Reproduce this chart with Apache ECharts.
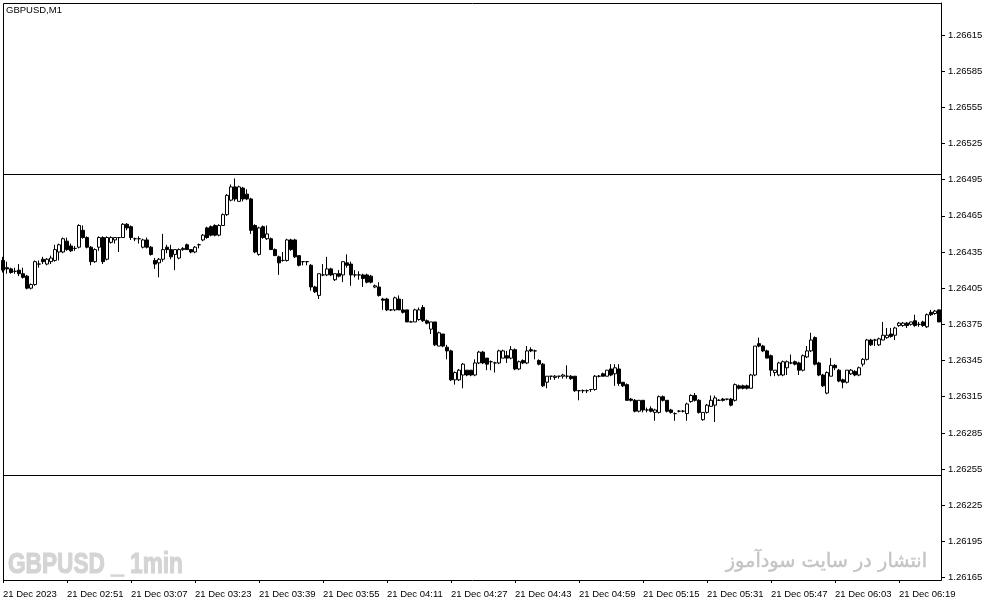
<!DOCTYPE html>
<html><head><meta charset="utf-8">
<script src="https://cdn.jsdelivr.net/npm/echarts@6/dist/echarts.min.js"></script>
<style>html,body{margin:0;padding:0;background:#fff}#c{width:987px;height:605px}</style>
</head><body><div id="c"></div>
<script>
const chartTitle = "GBPUSD,M1";
const watermarkLeft = "GBPUSD _ 1min";
const watermarkRight = "انتشار در سایت سودآموز";
const dateLabel = "21 Dec 2023";
const dayPrefix = "21 Dec ";
const startTime = "02:35";
const labelEvery = 16;

const opens = [
1.26428,1.26422,1.26421,1.26419,1.26420,1.26417,1.26415,1.26405,1.26408,1.26425,
1.26429,1.26425,1.26427,1.26428,1.26435,1.26435,1.26444,1.26440,1.26438,1.26439,
1.26453,1.26447,1.26439,1.26427,1.26439,1.26447,1.26429,1.26443,1.26445,1.26447,
1.26447,1.26458,1.26456,1.26446,1.26446,1.26439,1.26445,1.26439,1.26428,1.26426,
1.26429,1.26439,1.26437,1.26433,1.26430,1.26437,1.26441,1.26437,1.26435,1.26441,
1.26445,1.26455,1.26456,1.26457,1.26449,1.26457,1.26466,1.26478,1.26489,1.26477,
1.26488,1.26483,1.26479,1.26457,1.26433,1.26456,1.26446,1.26446,1.26437,1.26431,
1.26428,1.26428,1.26445,1.26445,1.26432,1.26427,1.26427,1.26424,1.26406,1.26399,
1.26416,1.26416,1.26421,1.26412,1.26417,1.26416,1.26426,1.26425,1.26416,1.26416,
1.26416,1.26416,1.26415,1.26406,1.26406,1.26396,1.26396,1.26387,1.26387,1.26396,
1.26387,1.26387,1.26377,1.26377,1.26379,1.26389,1.26378,1.26371,1.26377,1.26357,
1.26367,1.26356,1.26353,1.26329,1.26329,1.26333,1.26337,1.26337,1.26333,1.26343,
1.26352,1.26347,1.26344,1.26343,1.26343,1.26347,1.26349,1.26347,1.26354,1.26338,
1.26345,1.26343,1.26354,1.26353,1.26345,1.26342,1.26327,1.26332,1.26331,1.26332,
1.26332,1.26332,1.26332,1.26332,1.26320,1.26320,1.26320,1.26321,1.26321,1.26332,
1.26334,1.26332,1.26338,1.26334,1.26338,1.26327,1.26325,1.26313,1.26312,1.26303,
1.26312,1.26304,1.26305,1.26302,1.26302,1.26315,1.26312,1.26304,1.26301,1.26303,
1.26303,1.26301,1.26311,1.26316,1.26312,1.26296,1.26302,1.26307,1.26308,1.26312,
1.26313,1.26313,1.26313,1.26312,1.26324,1.26324,1.26324,1.26322,1.26333,1.26359,
1.26357,1.26353,1.26349,1.26335,1.26333,1.26333,1.26339,1.26343,1.26344,1.26343,
1.26337,1.26348,1.26353,1.26364,1.26343,1.26333,1.26318,1.26332,1.26341,1.26337,
1.26329,1.26327,1.26334,1.26336,1.26333,1.26342,1.26346,1.26362,1.26362,1.26358,
1.26362,1.26364,1.26367,1.26366,1.26374,1.26374,1.26376,1.26375,1.26378,1.26375,
1.26377,1.26373,1.26385,1.26384,1.26387];

const closes = [
1.26420,1.26421,1.26418,1.26419,1.26417,1.26414,1.26405,1.26408,1.26427,1.26425,
1.26427,1.26429,1.26430,1.26437,1.26441,1.26446,1.26437,1.26436,1.26438,1.26457,
1.26447,1.26439,1.26427,1.26437,1.26447,1.26427,1.26447,1.26447,1.26447,1.26447,
1.26458,1.26455,1.26447,1.26446,1.26446,1.26445,1.26439,1.26433,1.26425,1.26429,
1.26437,1.26437,1.26431,1.26437,1.26437,1.26438,1.26437,1.26435,1.26439,1.26441,
1.26449,1.26447,1.26449,1.26449,1.26457,1.26466,1.26482,1.26489,1.26479,1.26489,
1.26479,1.26479,1.26453,1.26435,1.26455,1.26447,1.26450,1.26437,1.26432,1.26426,
1.26428,1.26445,1.26437,1.26431,1.26424,1.26427,1.26427,1.26406,1.26402,1.26417,
1.26416,1.26421,1.26416,1.26417,1.26415,1.26427,1.26424,1.26416,1.26416,1.26416,
1.26413,1.26410,1.26410,1.26407,1.26399,1.26395,1.26387,1.26387,1.26397,1.26387,
1.26385,1.26377,1.26377,1.26387,1.26387,1.26378,1.26376,1.26377,1.26358,1.26368,
1.26357,1.26353,1.26329,1.26335,1.26337,1.26342,1.26333,1.26333,1.26343,1.26352,
1.26343,1.26342,1.26344,1.26343,1.26353,1.26353,1.26347,1.26354,1.26338,1.26344,
1.26343,1.26353,1.26353,1.26353,1.26342,1.26324,1.26332,1.26332,1.26332,1.26332,
1.26333,1.26332,1.26330,1.26320,1.26320,1.26320,1.26320,1.26321,1.26332,1.26332,
1.26332,1.26337,1.26333,1.26339,1.26326,1.26324,1.26312,1.26312,1.26303,1.26312,
1.26304,1.26304,1.26303,1.26304,1.26315,1.26312,1.26303,1.26302,1.26301,1.26303,
1.26303,1.26309,1.26316,1.26312,1.26302,1.26302,1.26308,1.26312,1.26314,1.26312,
1.26312,1.26313,1.26308,1.26325,1.26322,1.26322,1.26322,1.26333,1.26357,1.26357,
1.26353,1.26347,1.26337,1.26337,1.26343,1.26344,1.26344,1.26343,1.26342,1.26337,
1.26349,1.26353,1.26362,1.26342,1.26333,1.26324,1.26335,1.26341,1.26339,1.26328,
1.26327,1.26337,1.26337,1.26333,1.26339,1.26346,1.26362,1.26358,1.26362,1.26363,
1.26366,1.26366,1.26365,1.26372,1.26376,1.26376,1.26374,1.26377,1.26374,1.26375,
1.26374,1.26383,1.26383,1.26386,1.26377];

const lows = [
1.26418,1.26417,1.26417,1.26417,1.26415,1.26413,1.26404,1.26404,1.26407,1.26422,
1.26425,1.26424,1.26425,1.26427,1.26428,1.26434,1.26436,1.26435,1.26436,1.26438,
1.26446,1.26438,1.26424,1.26426,1.26436,1.26425,1.26428,1.26442,1.26442,1.26435,
1.26447,1.26453,1.26445,1.26444,1.26442,1.26438,1.26438,1.26432,1.26421,1.26414,
1.26427,1.26434,1.26429,1.26420,1.26429,1.26436,1.26437,1.26434,1.26434,1.26438,
1.26444,1.26446,1.26448,1.26448,1.26448,1.26457,1.26465,1.26477,1.26477,1.26477,
1.26477,1.26478,1.26450,1.26434,1.26432,1.26446,1.26445,1.26437,1.26432,1.26416,
1.26427,1.26427,1.26436,1.26430,1.26423,1.26424,1.26424,1.26403,1.26401,1.26396,
1.26415,1.26415,1.26415,1.26411,1.26414,1.26410,1.26422,1.26407,1.26414,1.26412,
1.26406,1.26409,1.26409,1.26405,1.26398,1.26387,1.26386,1.26386,1.26386,1.26387,
1.26384,1.26377,1.26377,1.26377,1.26378,1.26377,1.26375,1.26367,1.26357,1.26357,
1.26356,1.26346,1.26328,1.26325,1.26328,1.26322,1.26332,1.26332,1.26332,1.26342,
1.26342,1.26337,1.26337,1.26335,1.26342,1.26347,1.26343,1.26346,1.26337,1.26337,
1.26342,1.26342,1.26352,1.26346,1.26341,1.26323,1.26322,1.26329,1.26329,1.26330,
1.26330,1.26330,1.26329,1.26319,1.26312,1.26318,1.26318,1.26319,1.26320,1.26331,
1.26332,1.26332,1.26332,1.26324,1.26324,1.26323,1.26312,1.26311,1.26302,1.26302,
1.26302,1.26302,1.26302,1.26295,1.26301,1.26311,1.26302,1.26301,1.26295,1.26302,
1.26302,1.26295,1.26310,1.26311,1.26301,1.26295,1.26301,1.26307,1.26294,1.26312,
1.26311,1.26312,1.26307,1.26311,1.26321,1.26321,1.26321,1.26322,1.26332,1.26356,
1.26352,1.26347,1.26332,1.26332,1.26332,1.26332,1.26333,1.26342,1.26341,1.26333,
1.26336,1.26347,1.26352,1.26341,1.26332,1.26323,1.26317,1.26332,1.26337,1.26327,
1.26322,1.26326,1.26333,1.26332,1.26332,1.26340,1.26345,1.26357,1.26357,1.26357,
1.26362,1.26363,1.26364,1.26362,1.26373,1.26373,1.26372,1.26374,1.26373,1.26373,
1.26373,1.26372,1.26382,1.26383,1.26377];

const highs = [
1.26431,1.26427,1.26422,1.26422,1.26425,1.26422,1.26416,1.26409,1.26428,1.26428,
1.26431,1.26430,1.26432,1.26441,1.26442,1.26447,1.26447,1.26442,1.26440,1.26458,
1.26457,1.26448,1.26440,1.26438,1.26448,1.26448,1.26448,1.26448,1.26447,1.26447,
1.26459,1.26459,1.26457,1.26447,1.26448,1.26446,1.26447,1.26440,1.26430,1.26430,
1.26450,1.26441,1.26441,1.26437,1.26438,1.26439,1.26442,1.26437,1.26440,1.26442,
1.26450,1.26456,1.26457,1.26458,1.26458,1.26467,1.26483,1.26491,1.26496,1.26490,
1.26489,1.26487,1.26480,1.26458,1.26456,1.26457,1.26457,1.26447,1.26438,1.26432,
1.26435,1.26446,1.26446,1.26446,1.26432,1.26427,1.26427,1.26425,1.26407,1.26417,
1.26425,1.26431,1.26422,1.26417,1.26420,1.26427,1.26433,1.26427,1.26420,1.26419,
1.26417,1.26417,1.26416,1.26408,1.26410,1.26397,1.26397,1.26387,1.26398,1.26399,
1.26396,1.26387,1.26378,1.26388,1.26389,1.26391,1.26379,1.26377,1.26377,1.26369,
1.26367,1.26358,1.26354,1.26336,1.26338,1.26343,1.26337,1.26337,1.26346,1.26353,
1.26353,1.26347,1.26345,1.26344,1.26354,1.26354,1.26353,1.26357,1.26355,1.26345,
1.26346,1.26357,1.26356,1.26354,1.26346,1.26343,1.26332,1.26332,1.26333,1.26332,
1.26334,1.26341,1.26333,1.26332,1.26320,1.26321,1.26321,1.26321,1.26333,1.26333,
1.26335,1.26337,1.26342,1.26342,1.26342,1.26327,1.26326,1.26314,1.26313,1.26312,
1.26312,1.26306,1.26307,1.26305,1.26316,1.26316,1.26312,1.26305,1.26302,1.26304,
1.26304,1.26310,1.26317,1.26318,1.26313,1.26302,1.26309,1.26316,1.26316,1.26313,
1.26314,1.26313,1.26314,1.26326,1.26325,1.26325,1.26325,1.26334,1.26357,1.26364,
1.26358,1.26354,1.26350,1.26337,1.26344,1.26345,1.26345,1.26350,1.26345,1.26344,
1.26350,1.26357,1.26368,1.26365,1.26344,1.26334,1.26336,1.26347,1.26342,1.26338,
1.26330,1.26337,1.26338,1.26337,1.26340,1.26347,1.26363,1.26363,1.26363,1.26364,
1.26377,1.26372,1.26372,1.26373,1.26377,1.26377,1.26377,1.26377,1.26383,1.26377,
1.26378,1.26384,1.26387,1.26387,1.26387];

const priceTicks = [1.26165,1.26195,1.26225,1.26255,1.26285,1.26315,1.26345,1.26375,
1.26405,1.26435,1.26465,1.26495,1.26525,1.26555,1.26585,1.26615];
const levelLines = [1.26500, 1.26250];
const priceMin = 1.261630;
const priceMax = 1.266415;

// time categories (one per minute)
const [sh, sm] = startTime.split(':').map(Number);
const categories = opens.map((_, i) => {
  const t = sh * 60 + sm + i;
  return String(Math.floor(t / 60)).padStart(2, '0') + ':' + String(t % 60).padStart(2, '0');
});
const candleData = opens.map((o, i) => [o, closes[i], lows[i], highs[i]]);

const GRID = {left: 1, right: 46, top: 3, bottom: 25};
const FRAME = {x1: 3, y1: 3, x2: 941, y2: 580};
const chart = echarts.init(document.getElementById('c'), null, {renderer: 'canvas'});
const FONT = '"Liberation Sans", Arial, sans-serif';
const baseGraphics = [
  {type: 'rect', silent: true, z: 5,
   shape: {x: FRAME.x1 + 0.5, y: FRAME.y1 + 0.5, width: FRAME.x2 - FRAME.x1, height: FRAME.y2 - FRAME.y1},
   style: {fill: null, stroke: '#000', lineWidth: 1}},
  {type: 'text', left: 6, top: 5, style: {text: chartTitle, fill: '#000', font: '9.5px ' + FONT}},
  {type: 'text', x: 8, y: 550, scaleX: 0.755, style: {text: watermarkLeft, fill: '#d4d4d4', stroke: '#d4d4d4', lineWidth: 1.2, font: 'bold 30px ' + FONT}},
  {type: 'text', x: 927, y: 552, style: {text: watermarkRight, fill: '#c4c4c4', stroke: '#c4c4c4', lineWidth: 0.4, font: '19.3px "DejaVu Sans"', align: 'right'}}
];
chart.setOption({
  animation: false,
  backgroundColor: '#ffffff',
  grid: Object.assign({show: false}, GRID),
  xAxis: {
    type: 'category', data: categories, boundaryGap: true,
    axisLine: {show: false},
    axisTick: {show: true, alignWithLabel: true, length: 3, interval: (i) => i % labelEvery === 0, lineStyle: {color: '#000'}},
    axisLabel: {
      interval: (i) => i % labelEvery === 0,
      formatter: (v, i) => i === 0 ? dateLabel : dayPrefix + v,
      align: 'left', margin: 9, color: '#000', fontSize: 9.5, fontFamily: FONT
    },
    splitLine: {show: false}
  },
  yAxis: {
    type: 'value', position: 'right', min: priceMin, max: priceMax, scale: true,
    axisLine: {show: true, lineStyle: {color: '#000', width: 1}},
    axisTick: {show: true, length: 4, customValues: priceTicks, lineStyle: {color: '#000'}},
    axisLabel: {customValues: priceTicks, formatter: (v) => v.toFixed(5), margin: 7, color: '#000', fontSize: 9.5, fontFamily: FONT},
    splitLine: {show: false}
  },
  graphic: baseGraphics,
  series: [{
    type: 'candlestick', data: candleData, barWidth: 3,
    itemStyle: {color: '#ffffff', color0: '#000000', borderColor: '#000000', borderColor0: '#000000', borderWidth: 1}
  }]
});
// horizontal level lines, positioned through the value axis scale
const levelGraphics = levelLines.map(v => {
  const y = Math.round(chart.convertToPixel({yAxisIndex: 0}, v)) + 0.5;
  return {type: 'line', silent: true, z: 10,
    shape: {x1: FRAME.x1, y1: y, x2: FRAME.x2, y2: y},
    style: {stroke: '#000', lineWidth: 1}};
});
chart.setOption({graphic: baseGraphics.concat(levelGraphics)});
</script></body></html>
